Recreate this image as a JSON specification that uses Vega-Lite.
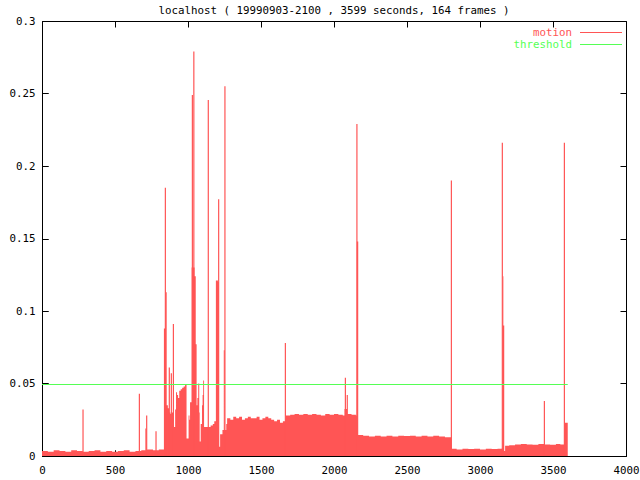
{
  "$schema": "https://vega.github.io/schema/vega-lite/v6.json",
  "width": 584,
  "height": 435,
  "autosize": {"type": "none"},
  "padding": {"left": 42, "top": 21, "right": 14, "bottom": 24},
  "background": "white",
  "title": {
    "text": "localhost ( 19990903-2100 , 3599 seconds, 164 frames )",
    "font": "DejaVu Sans Mono",
    "fontSize": 10.8,
    "fontWeight": "normal",
    "color": "black",
    "anchor": "middle",
    "frame": "group",
    "baseline": "alphabetic",
    "offset": 7,
    "dy": 17
  },
  "config": {
    "view": {"stroke": "black", "strokeWidth": 1},
    "font": "DejaVu Sans Mono",
    "axis": {
      "domain": false,
      "grid": true,
      "gridColor": "black",
      "gridOpacity": 1,
      "gridWidth": 1,
      "ticks": true,
      "tickColor": "black",
      "tickSize": -6,
      "tickWidth": 1,
      "labelFont": "DejaVu Sans Mono",
      "labelFontSize": 10.8,
      "labelColor": "black",
      "labelFlush": false,
      "labelAngle": 0,
      "title": null
    }
  },
  "datasets": {
    "base": [
      {"t": 0, "v": 0.0035}, {"t": 40, "v": 0.003}, {"t": 80, "v": 0.004}, {"t": 120, "v": 0.0035},
      {"t": 160, "v": 0.003}, {"t": 200, "v": 0.004}, {"t": 240, "v": 0.0035}, {"t": 280, "v": 0.003},
      {"t": 320, "v": 0.0035}, {"t": 360, "v": 0.004}, {"t": 400, "v": 0.003}, {"t": 440, "v": 0.0035},
      {"t": 480, "v": 0.003}, {"t": 520, "v": 0.0035}, {"t": 560, "v": 0.004}, {"t": 600, "v": 0.003},
      {"t": 640, "v": 0.0035}, {"t": 680, "v": 0.004}, {"t": 720, "v": 0.0045}, {"t": 760, "v": 0.004},
      {"t": 800, "v": 0.0045},
      {"t": 835, "v": 0.088}, {"t": 848, "v": 0.035}, {"t": 862, "v": 0.033}, {"t": 870, "v": 0.03},
      {"t": 880, "v": 0.029}, {"t": 890, "v": 0.03}, {"t": 903, "v": 0.02}, {"t": 912, "v": 0.032},
      {"t": 918, "v": 0.044}, {"t": 925, "v": 0.042}, {"t": 932, "v": 0.04}, {"t": 940, "v": 0.045},
      {"t": 950, "v": 0.046}, {"t": 960, "v": 0.047}, {"t": 970, "v": 0.048}, {"t": 980, "v": 0.049},
      {"t": 990, "v": 0.012}, {"t": 1004, "v": 0.028}, {"t": 1010, "v": 0.025}, {"t": 1014, "v": 0.037},
      {"t": 1025, "v": 0.13}, {"t": 1045, "v": 0.124}, {"t": 1053, "v": 0.077}, {"t": 1059, "v": 0.035},
      {"t": 1064, "v": 0.04}, {"t": 1070, "v": 0.05}, {"t": 1077, "v": 0.03}, {"t": 1080, "v": 0.01},
      {"t": 1087, "v": 0.022}, {"t": 1096, "v": 0.035}, {"t": 1100, "v": 0.042}, {"t": 1104, "v": 0.052},
      {"t": 1110, "v": 0.02}, {"t": 1142, "v": 0.02}, {"t": 1155, "v": 0.021}, {"t": 1170, "v": 0.022},
      {"t": 1180, "v": 0.024}, {"t": 1191, "v": 0.121}, {"t": 1205, "v": 0.12}, {"t": 1212, "v": 0.0064},
      {"t": 1220, "v": 0.015}, {"t": 1236, "v": 0.018}, {"t": 1245, "v": 0.073}, {"t": 1252, "v": 0.018},
      {"t": 1262, "v": 0.022}, {"t": 1268, "v": 0.026},
      {"t": 1290, "v": 0.025}, {"t": 1310, "v": 0.027}, {"t": 1330, "v": 0.026}, {"t": 1350, "v": 0.027},
      {"t": 1370, "v": 0.025}, {"t": 1390, "v": 0.026}, {"t": 1410, "v": 0.027}, {"t": 1430, "v": 0.026},
      {"t": 1450, "v": 0.026}, {"t": 1470, "v": 0.027}, {"t": 1490, "v": 0.025}, {"t": 1510, "v": 0.026},
      {"t": 1530, "v": 0.027}, {"t": 1550, "v": 0.026}, {"t": 1570, "v": 0.025}, {"t": 1590, "v": 0.024},
      {"t": 1610, "v": 0.025}, {"t": 1630, "v": 0.023}, {"t": 1650, "v": 0.024},
      {"t": 1667, "v": 0.028}, {"t": 1700, "v": 0.0285}, {"t": 1730, "v": 0.029}, {"t": 1760, "v": 0.0285},
      {"t": 1790, "v": 0.029}, {"t": 1820, "v": 0.0285}, {"t": 1850, "v": 0.029}, {"t": 1880, "v": 0.0285},
      {"t": 1910, "v": 0.028}, {"t": 1940, "v": 0.029}, {"t": 1970, "v": 0.0285}, {"t": 2000, "v": 0.029},
      {"t": 2030, "v": 0.0285}, {"t": 2060, "v": 0.028}, {"t": 2072, "v": 0.0325}, {"t": 2090, "v": 0.029},
      {"t": 2120, "v": 0.0285}, {"t": 2150, "v": 0.028},
      {"t": 2156, "v": 0.148}, {"t": 2166, "v": 0.0145},
      {"t": 2200, "v": 0.014}, {"t": 2240, "v": 0.0135}, {"t": 2280, "v": 0.014}, {"t": 2320, "v": 0.0135},
      {"t": 2360, "v": 0.014}, {"t": 2400, "v": 0.0135}, {"t": 2440, "v": 0.014}, {"t": 2480, "v": 0.0138},
      {"t": 2520, "v": 0.014}, {"t": 2560, "v": 0.0135}, {"t": 2600, "v": 0.014}, {"t": 2640, "v": 0.0135},
      {"t": 2680, "v": 0.014}, {"t": 2720, "v": 0.0135}, {"t": 2760, "v": 0.013},
      {"t": 2806, "v": 0.005}, {"t": 2840, "v": 0.0045}, {"t": 2880, "v": 0.005}, {"t": 2920, "v": 0.0048},
      {"t": 2960, "v": 0.005}, {"t": 3000, "v": 0.0045}, {"t": 3040, "v": 0.005}, {"t": 3080, "v": 0.0048},
      {"t": 3120, "v": 0.005}, {"t": 3150, "v": 0.0055},
      {"t": 3155, "v": 0.124}, {"t": 3160, "v": 0.09}, {"t": 3166, "v": 0.0035},
      {"t": 3172, "v": 0.007}, {"t": 3200, "v": 0.0075}, {"t": 3240, "v": 0.008}, {"t": 3280, "v": 0.0082},
      {"t": 3320, "v": 0.008}, {"t": 3360, "v": 0.0078}, {"t": 3400, "v": 0.0082}, {"t": 3440, "v": 0.008},
      {"t": 3480, "v": 0.0078}, {"t": 3520, "v": 0.0082}, {"t": 3550, "v": 0.008},
      {"t": 3580, "v": 0.023}, {"t": 3601, "v": 0.023}
    ],
    "spikes": [
      {"t": 281, "v": 0.032}, {"t": 667, "v": 0.043}, {"t": 712, "v": 0.019}, {"t": 717, "v": 0.028},
      {"t": 781, "v": 0.017}, {"t": 845, "v": 0.185}, {"t": 850, "v": 0.113}, {"t": 872, "v": 0.061},
      {"t": 886, "v": 0.057}, {"t": 900, "v": 0.091}, {"t": 1030, "v": 0.249}, {"t": 1040, "v": 0.279},
      {"t": 1139, "v": 0.2455}, {"t": 1210, "v": 0.177}, {"t": 1253, "v": 0.255}, {"t": 1667, "v": 0.078},
      {"t": 2078, "v": 0.054}, {"t": 2091, "v": 0.042}, {"t": 2157, "v": 0.229}, {"t": 2804, "v": 0.19},
      {"t": 3153, "v": 0.216}, {"t": 3441, "v": 0.038}, {"t": 3578, "v": 0.216}
    ],
    "threshold": [
      {"t": 0, "v": 0.05}, {"t": 3601, "v": 0.05}
    ]
  },
  "layer": [
    {
      "data": {"name": "base"},
      "mark": {"type": "area", "interpolate": "step-after", "color": "#ff5555", "opacity": 1},
      "encoding": {
        "x": {
          "field": "t", "type": "quantitative",
          "scale": {"domain": [0, 4000], "nice": false, "zero": false},
          "axis": {"orient": "bottom", "values": [0, 500, 1000, 1500, 2000, 2500, 3000, 3500, 4000], "format": "d", "labelPadding": 14, "gridDash": [6, 423, 6, 2000]}
        },
        "y": {
          "field": "v", "type": "quantitative",
          "scale": {"domain": [0, 0.3], "nice": false, "zero": false},
          "axis": {"orient": "left", "values": [0, 0.05, 0.1, 0.15, 0.2, 0.25, 0.3], "format": "~g", "labelPadding": 13, "gridDash": [6, 572, 6, 2000]}
        }
      }
    },
    {
      "data": {"name": "spikes"},
      "mark": {"type": "rule", "strokeWidth": 1.2},
      "encoding": {
        "x": {"field": "t", "type": "quantitative"},
        "y": {"field": "v", "type": "quantitative"},
        "y2": {"datum": 0},
        "color": {
          "datum": "motion", "type": "nominal",
          "scale": {"domain": ["motion", "threshold"], "range": ["#ff5555", "#55ff55"]},
          "legend": {
            "orient": "none",
            "legendX": 530,
            "legendY": 6,
            "title": null,
            "padding": 0,
            "rowPadding": 0,
            "symbolType": "M-4.2,0H4.2",
            "symbolSize": 100,
            "symbolStrokeWidth": 1,
            "labelFont": "DejaVu Sans Mono",
            "labelFontSize": 10.8,
            "labelLimit": 300,
            "encode": {
              "labels": {"update": {
                "fill": {"signal": "datum.value === 'motion' ? '#ff5555' : '#55ff55'"},
                "align": {"value": "right"},
                "x": {"value": 0}
              }},
              "symbols": {"update": {
                "x": {"value": 29},
                "stroke": {"signal": "datum.value === 'motion' ? '#ff5555' : '#55ff55'"}
              }}
            }
          }
        }
      }
    },
    {
      "data": {"name": "threshold"},
      "mark": {"type": "line", "strokeWidth": 1, "color": "#55ff55", "yOffset": 1},
      "encoding": {
        "x": {"field": "t", "type": "quantitative"},
        "y": {"field": "v", "type": "quantitative"}
      }
    }
  ]
}
